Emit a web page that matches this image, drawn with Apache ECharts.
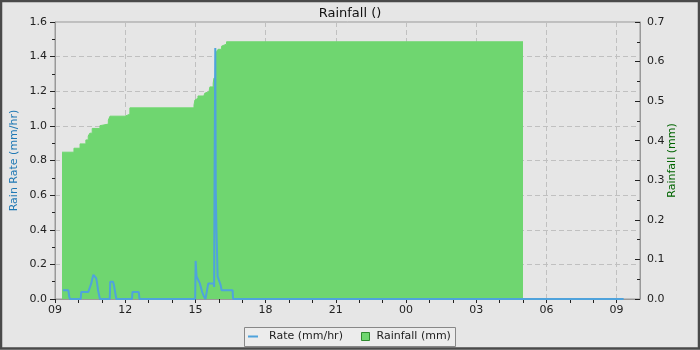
<!DOCTYPE html>
<html>
<head>
<meta charset="utf-8">
<script src="https://cdn.jsdelivr.net/npm/echarts@6/dist/echarts.min.js"></script>
<style>
html,body{margin:0;padding:0;background:#e6e6e6;}
#chart{width:700px;height:350px;}
</style>
</head>
<body>
<div id="chart"></div>
<script>
// Rain rate (mm/hr): hours since midnight of day 1
const rateHours = [9.34, 9.57, 9.61, 9.64, 10.10, 10.12, 10.42, 10.45, 10.50, 10.55, 10.60, 10.64, 10.68, 10.72, 10.76, 10.80, 10.84, 10.88, 10.92, 11.34, 11.36, 11.48, 11.52, 11.57, 11.62, 12.29, 12.31, 12.58, 12.61, 14.99, 15.01, 15.05, 15.09, 15.12, 15.19, 15.23, 15.29, 15.37, 15.43, 15.50, 15.55, 15.78, 15.80, 15.82, 15.85, 15.87, 15.90, 15.95, 16.02, 16.08, 16.12, 16.59, 16.61, 33.30];
const rateValues = [0.05, 0.05, 0.013, 0, 0, 0.04, 0.04, 0.05, 0.05, 0.09, 0.12, 0.14, 0.15, 0.15, 0.12, 0.09, 0.05, 0.04, 0, 0, 0.1, 0.1, 0.08, 0.04, 0, 0, 0.04, 0.04, 0, 0, 0.22, 0.13, 0.13, 0.11, 0.09, 0.07, 0.04, 0.013, 0, 0, 0.09, 0.09, 0.07, 0.75, 1.45, 0.63, 0.40, 0.13, 0.13, 0.08, 0.05, 0.05, 0, 0];
// Cumulative rainfall (mm)
const rainHours = [9.30, 9.81, 10.07, 10.32, 10.42, 10.49, 10.59, 10.92, 10.99, 11.28, 11.35, 11.99, 12.20, 14.94, 14.98, 15.02, 15.11, 15.36, 15.40, 15.48, 15.58, 15.62, 15.76, 15.79, 15.90, 15.97, 16.12, 16.18, 16.33, 29.00];
const rainValues = [0.371, 0.381, 0.392, 0.402, 0.412, 0.419, 0.431, 0.438, 0.442, 0.452, 0.462, 0.467, 0.483, 0.490, 0.503, 0.507, 0.513, 0.516, 0.520, 0.524, 0.528, 0.536, 0.545, 0.558, 0.625, 0.631, 0.639, 0.644, 0.650, 0.650];

const xMin = 9, xMax = 34;
const titleText = 'Rainfall ()';
const rateName = 'Rate (mm/hr)';
const rainName = 'Rainfall (mm)';

const font = 'DejaVu Sans';
const rateColor = '#4fa3dc';
const rainColor = '#6fd670';

const chart = echarts.init(document.getElementById('chart'), null, {renderer: 'canvas'});
const zip = (a, b) => a.map((v, i) => [v, b[i]]);

chart.setOption({
  backgroundColor: '#e6e6e6',
  animation: false,
  title: {
    text: titleText, left: 'center', top: 2,
    textStyle: {fontFamily: font, fontSize: 13, fontWeight: 'normal', color: '#111'}
  },
  graphic: [
    {type: 'rect', silent: true, z: 100, shape: {x: 1, y: 1, width: 698, height: 347.5},
     style: {fill: 'none', stroke: '#4a4a4a', lineWidth: 2.5}},
    {type: 'rect', silent: true, z: 0, shape: {x: 244.5, y: 327.5, width: 211, height: 19},
     style: {fill: '#ececec', stroke: '#888', lineWidth: 1}}
  ],
  legend: [
    {data: [{name: rateName, icon: 'rect'}], left: 248, top: 331, itemWidth: 10, itemHeight: 2,
     padding: 0, textStyle: {fontFamily: font, fontSize: 11, color: '#222', padding: [0, 0, 0, 6]}},
    {data: [{name: rainName, icon: 'rect', itemStyle: {color: rainColor, borderColor: '#2f8a2f', borderWidth: 1}}],
     left: 361, top: 331, itemWidth: 8, itemHeight: 8, padding: 0,
     textStyle: {fontFamily: font, fontSize: 11, color: '#222', padding: [0, 0, 0, 2]}}
  ],
  grid: {left: 55, right: 60, top: 22, bottom: 51, containLabel: false, outerBoundsMode: 'none',
         show: true, borderColor: '#999', borderWidth: 1, backgroundColor: 'transparent'},
  xAxis: [
    {
      type: 'value', min: xMin, max: xMax, interval: 1,
      axisLine: {show: true, lineStyle: {color: '#999'}},
      axisTick: {show: true, length: 4, lineStyle: {color: '#222'}},
      axisLabel: {interval: 0, showMaxLabel: false, margin: 6, fontFamily: font, fontSize: 11, color: '#222',
        formatter: v => (Math.round(v) % 3 === 0 && v < xMax) ? String(Math.round(v) % 24).padStart(2, '0') : ''},
      splitLine: {show: false}
    },
    {
      type: 'value', min: xMin, max: xMax, interval: 3, position: 'bottom',
      axisLine: {show: false}, axisTick: {show: false}, axisLabel: {show: false},
      splitLine: {show: true, lineStyle: {color: '#c0c0c0', type: [5, 3]}}
    }
  ],
  yAxis: [
    {
      type: 'value', min: 0, max: 1.6, interval: 0.2, position: 'left',
      name: 'Rain Rate (mm/hr)', nameLocation: 'middle', nameGap: 35, nameMoveOverlap: false,
      nameTextStyle: {fontFamily: font, fontSize: 11, color: '#1f78b4'},
      axisLine: {show: true, lineStyle: {color: '#999'}},
      axisTick: {show: true, length: 5, lineStyle: {color: '#222'}},
      minorTick: {show: true, splitNumber: 2, length: 3, lineStyle: {color: '#222'}},
      axisLabel: {margin: 8, fontFamily: font, fontSize: 11, color: '#222', formatter: v => v.toFixed(1)},
      splitLine: {show: true, lineStyle: {color: '#c0c0c0', type: [5, 3]}}
    },
    {
      type: 'value', min: 0, max: 0.7, interval: 0.1, position: 'right',
      name: 'Rainfall (mm)', nameLocation: 'middle', nameGap: 27, nameMoveOverlap: false,
      nameTextStyle: {fontFamily: font, fontSize: 11, color: '#006400'},
      axisLine: {show: true, lineStyle: {color: '#999'}},
      axisTick: {show: true, inside: true, length: 5, lineStyle: {color: '#222'}},
      minorTick: {show: true, splitNumber: 2, length: 3, lineStyle: {color: '#222'}},
      axisLabel: {margin: 7, fontFamily: font, fontSize: 11, color: '#222', formatter: v => v.toFixed(1)},
      splitLine: {show: false}
    }
  ],
  series: [
    {
      name: rainName, type: 'line', xAxisIndex: 0, yAxisIndex: 1, step: 'end',
      data: zip(rainHours, rainValues), showSymbol: false, symbol: 'none',
      lineStyle: {color: rainColor, width: 1}, itemStyle: {color: rainColor},
      areaStyle: {color: rainColor, opacity: 1}, z: 2
    },
    {
      name: rateName, type: 'line', xAxisIndex: 0, yAxisIndex: 0,
      data: zip(rateHours, rateValues), showSymbol: false, symbol: 'none',
      lineStyle: {color: rateColor, width: 2}, itemStyle: {color: rateColor}, z: 3
    }
  ]
});
</script>
</body>
</html>
